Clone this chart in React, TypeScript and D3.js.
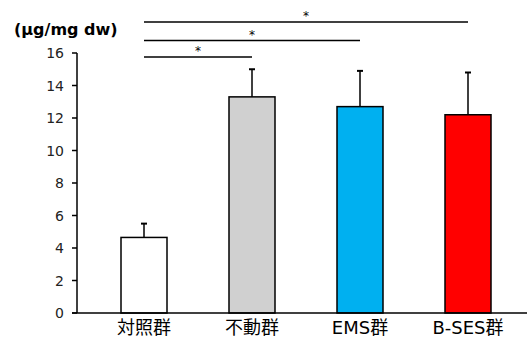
import React from 'react';
import * as d3 from 'd3';

const categories = ['対照群', '不動群', 'EMS群', 'B-SES群'];
const means = [4.65, 13.3, 12.7, 12.2];
const errors = [0.85, 1.7, 2.2, 2.6];
const colors = ['#ffffff', '#d0d0d0', '#00b0f0', '#ff0000'];
const yTicks = [0, 2, 4, 6, 8, 10, 12, 14, 16];
// significance brackets: [from index, to index]
const brackets: [number, number][] = [[0, 1], [0, 2], [0, 3]];

const W = 527;
const H = 341;
const FONT = '"DejaVu Sans", Verdana, "Noto Sans CJK JP", sans-serif';

const App = () => {
  const y = d3.scaleLinear().domain([0, 16]).range([313, 53]);
  const x = d3.scalePoint<string>().domain(categories).range([144, 468]);
  const barW = 46;
  const axisX = 77;
  const bracketY = [57, 40.5, 22];

  return (
    <svg width={W} height={H} style={{ position: 'absolute', left: 0, top: 0 }}>
      <rect width={W} height={H} fill="#fff" />
      {/* unit label */}
      <text x={14} y={35} fontFamily={FONT} fontSize={16} fontWeight="bold" fill="#000">
        (μg/mg dw)
      </text>

      {/* y axis */}
      <line x1={axisX} x2={axisX} y1={y(16)} y2={y(0)} stroke="#000" strokeWidth={1.5} />
      {yTicks.map(t => (
        <g key={t}>
          <line x1={axisX - 5} x2={axisX} y1={y(t)} y2={y(t)} stroke="#000" strokeWidth={1.5} />
          <text x={64} y={y(t)} dy="0.36em" textAnchor="end" fontFamily={FONT} fontSize={14} fill="#222">
            {t}
          </text>
        </g>
      ))}

      {/* bars */}
      {categories.map((c, i) => {
        const cx = x(c)!;
        return (
          <g key={c}>
            <line x1={cx} x2={cx} y1={y(means[i])} y2={y(means[i] + errors[i])} stroke="#000" strokeWidth={1.5} />
            <line x1={cx - 3} x2={cx + 3} y1={y(means[i] + errors[i])} y2={y(means[i] + errors[i])} stroke="#000" strokeWidth={2} />
            <rect
              x={cx - barW / 2}
              y={y(means[i])}
              width={barW}
              height={y(0) - y(means[i])}
              fill={colors[i]}
              stroke="#000"
              strokeWidth={1.5}
            />
            <text x={cx} y={334} textAnchor="middle" fontFamily={FONT} fontSize={18} fill="#000">
              {c}
            </text>
          </g>
        );
      })}

      {/* x axis */}
      <line x1={axisX - 5} x2={W} y1={y(0)} y2={y(0)} stroke="#000" strokeWidth={1.5} />

      {/* significance */}
      {brackets.map(([a, b], i) => {
        const x1 = x(categories[a])!;
        const x2 = x(categories[b])!;
        return (
          <g key={i}>
            <line x1={x1} x2={x2} y1={bracketY[i]} y2={bracketY[i]} stroke="#000" strokeWidth={1.5} />
            <text x={(x1 + x2) / 2} y={bracketY[i] - 2} textAnchor="middle" fontFamily={FONT} fontSize={12} fill="#000">
              *
            </text>
          </g>
        );
      })}
    </svg>
  );
};

export default App;
